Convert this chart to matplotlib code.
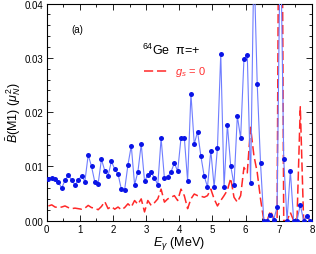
import numpy as np
import matplotlib
matplotlib.use("Agg")
import matplotlib.pyplot as plt
from matplotlib.ticker import MultipleLocator

plt.rcParams['font.family'] = ['Liberation Sans', 'DejaVu Sans']
plt.rcParams['mathtext.fontset'] = 'custom'
plt.rcParams['mathtext.rm'] = 'Liberation Sans'
plt.rcParams['mathtext.it'] = 'Liberation Sans:italic'

# energy bins (MeV), bin centres
e_gamma = np.arange(80) * 0.1 + 0.05

# B(M1) full calculation (mu_N^2)
b_m1 = [
    0.0077, 0.0079, 0.0076, 0.0071, 0.0060, 0.0074, 0.0084, 0.0075, 0.0066, 0.0074,
    0.0083, 0.0072, 0.0121, 0.0100, 0.0071, 0.0068, 0.0113, 0.0092, 0.0083, 0.0109,
    0.0095, 0.0086, 0.0058, 0.0057, 0.0103, 0.0138, 0.0066, 0.0090, 0.0141, 0.0073,
    0.0084, 0.0089, 0.0079, 0.0066, 0.0152, 0.0078, 0.0081, 0.0090, 0.0106, 0.0091,
    0.0152, 0.0153, 0.0073, 0.0234, 0.0141, 0.0164, 0.0119, 0.0082, 0.0062, 0.0129,
    0.0062, 0.0134, 0.0308, 0.0062, 0.0177, 0.0101, 0.0066, 0.0193, 0.0152, 0.0298,
    0.0306, 0.0070, 0.0480, 0.0252, 0.0106, 0.0000, 0.0000, 0.0010, 0.0002, 0.0025,
    0.0550, 0.0113, 0.0000, 0.0092, 0.0000, 0.0000, 0.0029, 0.0000, 0.0009, 0.0000,
]

# B(M1) with g_s = 0
b_m1_gs0 = [
    0.0027, 0.0029, 0.0025, 0.0024, 0.0025, 0.0027, 0.0024, 0.0022, 0.0023, 0.0022,
    0.0021, 0.0023, 0.0028, 0.0024, 0.0023, 0.0020, 0.0026, 0.0035, 0.0022, 0.0026,
    0.0021, 0.0025, 0.0020, 0.0024, 0.0031, 0.0025, 0.0037, 0.0030, 0.0040, 0.0016,
    0.0037, 0.0028, 0.0033, 0.0040, 0.0058, 0.0034, 0.0040, 0.0043, 0.0046, 0.0037,
    0.0058, 0.0046, 0.0022, 0.0040, 0.0049, 0.0046, 0.0045, 0.0043, 0.0046, 0.0058,
    0.0040, 0.0027, 0.0037, 0.0046, 0.0056, 0.0078, 0.0043, 0.0034, 0.0046, 0.0098,
    0.0088, 0.0172, 0.0120, 0.0089, 0.0040, 0.0000, 0.0000, 0.0018, 0.0003, 0.0000,
    0.1200, 0.0000, 0.0000, 0.0015, 0.0000, 0.0000, 0.0210, 0.0000, 0.0008, 0.0000,
]

fig = plt.figure(figsize=(3.16, 2.55), dpi=100)
ax = fig.add_axes([0.148, 0.131, 0.839, 0.851])

# g_s = 0 curve (red dashed)
ax.plot(e_gamma, b_m1_gs0, color='#ff2828', lw=1.1, dashes=(6, 2.5), zorder=2)
# full calculation
ax.plot(e_gamma, b_m1, color='#6f7dff', lw=0.8, zorder=3)
ax.plot(e_gamma, b_m1, 'o', color='#0a14e6', ms=3.6, mec='none', zorder=4)

ax.set_xlim(0, 8)
ax.set_ylim(0, 0.04)
ax.xaxis.set_major_locator(MultipleLocator(1))
ax.xaxis.set_minor_locator(MultipleLocator(0.5))
ax.yaxis.set_major_locator(MultipleLocator(0.01))
ax.yaxis.set_minor_locator(MultipleLocator(0.002))
ax.yaxis.set_major_formatter(plt.FuncFormatter(lambda v, p: f"{v:.2f}"))
ax.tick_params(which='both', direction='in', top=True, right=True, labelsize=7, width=0.6)
ax.tick_params(which='major', length=4, pad=2.5)
ax.tick_params(which='minor', length=2)
for s in ax.spines.values():
    s.set_linewidth(0.8)

ax.set_xlabel(r'$E_\gamma$ (MeV)', fontsize=9, labelpad=0)
ax.set_ylabel(r'$\bar{B}$(M1) ($\mu_N^2$)', fontsize=9, labelpad=1)

ax.text(0.092, 0.87, '(a)', transform=ax.transAxes, fontsize=7)
ax.text(0.36, 0.77, r'$^{64}$Ge  π=+', transform=ax.transAxes, fontsize=9)

# legend for g_s = 0
ax.plot([0.365, 0.46], [0.688, 0.688], transform=ax.transAxes,
        color='#ff2828', lw=1.1, dashes=(6, 2.5))
ax.text(0.485, 0.688, r'$g_s$ = 0', transform=ax.transAxes, fontsize=8,
        color='#ff3030', va='center')

fig.savefig('out.png', dpi=100)
